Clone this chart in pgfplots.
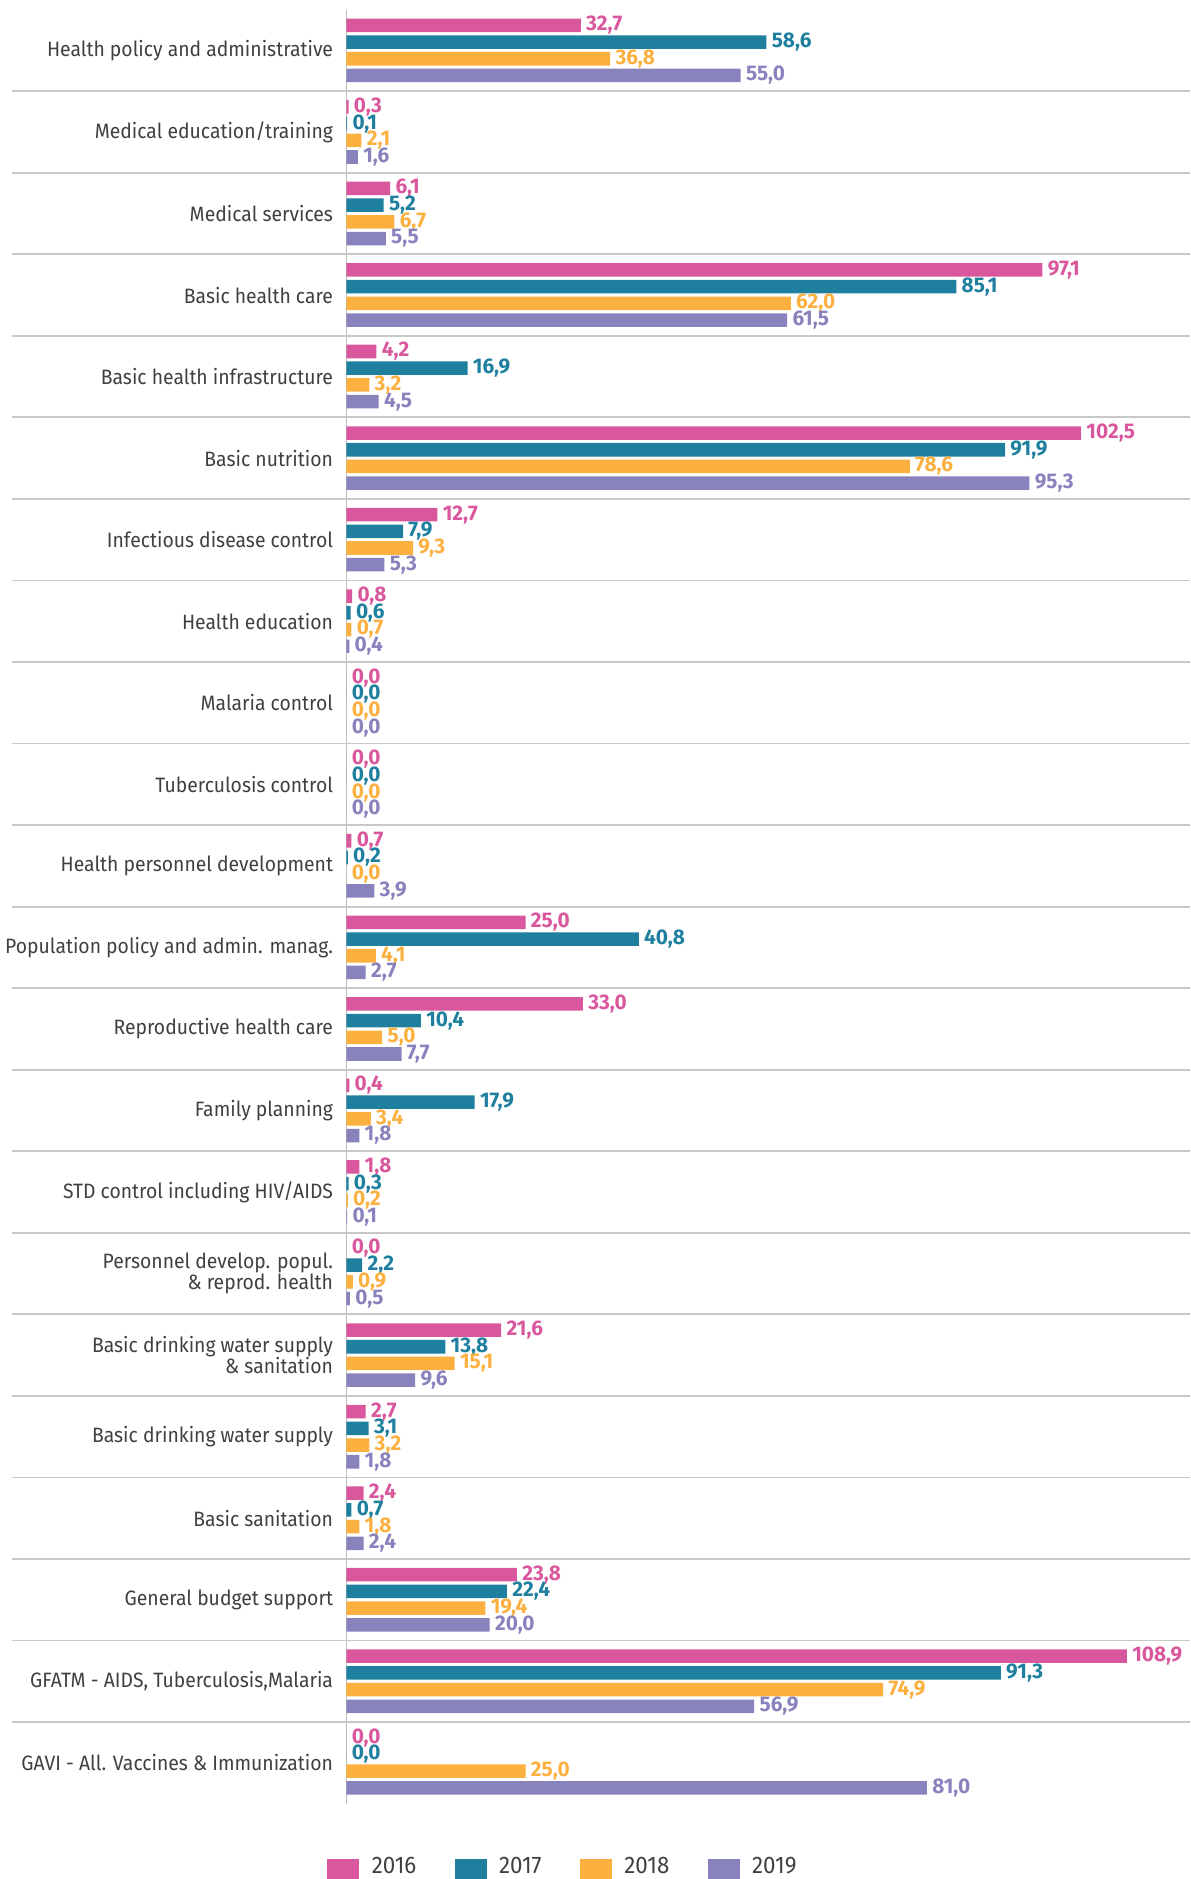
\documentclass[border=0pt]{standalone}
\usepackage{fontspec}
\setmainfont{Fira Sans}[FakeStretch=0.93]
\newfontfamily\valfont{Fira Sans}[FakeStretch=0.98]
\usepackage{pgfplots}
\usepackage{pgfplotstable}
\pgfplotsset{compat=1.18}
\definecolor{c16}{HTML}{D9579C}
\definecolor{c17}{HTML}{1E809E}
\definecolor{c18}{HTML}{FBB040}
\definecolor{c19}{HTML}{8882BD}
\definecolor{labgray}{HTML}{404040}
\definecolor{sepgray}{HTML}{C8C8C8}
\definecolor{axgray}{HTML}{BDBDBD}
\pgfplotstableread{
y a b c d
0 32.7 58.6 36.8 55.0
1 0.3 0.1 2.1 1.6
2 6.1 5.2 6.7 5.5
3 97.1 85.1 62.0 61.5
4 4.2 16.9 3.2 4.5
5 102.5 91.9 78.6 95.3
6 12.7 7.9 9.3 5.3
7 0.8 0.6 0.7 0.4
8 0.0 0.0 0.0 0.0
9 0.0 0.0 0.0 0.0
10 0.7 0.2 0.0 3.9
11 25.0 40.8 4.1 2.7
12 33.0 10.4 5.0 7.7
13 0.4 17.9 3.4 1.8
14 1.8 0.3 0.2 0.1
15 0.0 2.2 0.9 0.5
16 21.6 13.8 15.1 9.6
17 2.7 3.1 3.2 1.8
18 2.4 0.7 1.8 2.4
19 23.8 22.4 19.4 20.0
20 108.9 91.3 74.9 56.9
21 0.0 0.0 25.0 81.0
}\datatable
\begin{document}
\begin{tikzpicture}
\useasboundingbox (-173.2pt,-37.7pt) rectangle (421.8pt,901.8pt);
\begin{axis}[
  at={(0,0)}, anchor=south west,
  scale only axis, width=421.8pt, height=897pt,
  xmin=0, xmax=117.7, ymin=-0.5, ymax=21.5, y dir=reverse,
  axis x line=none, axis y line*=left,
  y axis line style={draw=axgray, line width=0.6pt},
  xtick=\empty,
  ytick={0,...,21},
  yticklabels={{Health policy and administrative},{Medical education/training},{Medical services},{Basic health care},{Basic health infrastructure},{Basic nutrition},{Infectious disease control},{Health education},{Malaria control},{Tuberculosis control},{Health personnel development},{Population policy and admin. manag.},{Reproductive health care},{Family planning},{STD control including HIV/AIDS},{Personnel develop. popul.\\\& reprod. health},{Basic drinking water supply\\\& sanitation},{Basic drinking water supply},{Basic sanitation},{General budget support},{GFATM - AIDS, Tuberculosis,Malaria},{GAVI - All. Vaccines \& Immunization}},
  ytick style={draw=none}, major tick length=0pt,
  yticklabel style={align=right, text=labgray, font=\fontsize{10.4}{10.5}\selectfont, inner sep=0pt, xshift=-6.5pt},
  clip=false,
  xbar,
  bar width=0.166,
  point meta=x,
  /pgf/number format/.cd, fixed, fixed zerofill, precision=1, use comma, assume math mode=true,
  /pgfplots/.cd,
  nodes near coords,
  every node near coord/.append style={anchor=west, inner sep=0pt, xshift=2.5pt, font=\valfont\bfseries\fontsize{10.6}{10.6}\selectfont},
  legend columns=4,
  legend style={at={(0,0)}, anchor=west, xshift=-9.7pt, yshift=-34.5pt, draw=none, fill=none, inner sep=0pt,
    font=\fontsize{12}{12}\selectfont, text=labgray,
    /tikz/every odd column/.append style={column sep=4.2pt},
    /tikz/every even column/.append style={column sep=17.2pt}},
]
\pgfplotsinvokeforeach{0,...,20}{
  \draw[sepgray, line width=0.9pt] ([xshift=-167.2pt]axis cs:0,#1+0.5) -- (axis cs:117.7,#1+0.5);
}
\addplot[fill=c16, draw=none, bar shift=-0.3075, every node near coord/.append style={text=c16},
  legend image code/.code={\fill[c16] (0pt,-13pt) rectangle (16pt,3.5pt);}] table[x=a,y=y]{\datatable};
\addplot[fill=c17, draw=none, bar shift=-0.1025, every node near coord/.append style={text=c17},
  legend image code/.code={\fill[c17] (0pt,-13pt) rectangle (16pt,3.5pt);}] table[x=b,y=y]{\datatable};
\addplot[fill=c18, draw=none, bar shift=0.1025, every node near coord/.append style={text=c18},
  legend image code/.code={\fill[c18] (0pt,-13pt) rectangle (16pt,3.5pt);}] table[x=c,y=y]{\datatable};
\addplot[fill=c19, draw=none, bar shift=0.3075, every node near coord/.append style={text=c19},
  legend image code/.code={\fill[c19] (0pt,-13pt) rectangle (16pt,3.5pt);}] table[x=d,y=y]{\datatable};
\legend{2016,2017,2018,2019}
\end{axis}
\end{tikzpicture}
\end{document}
